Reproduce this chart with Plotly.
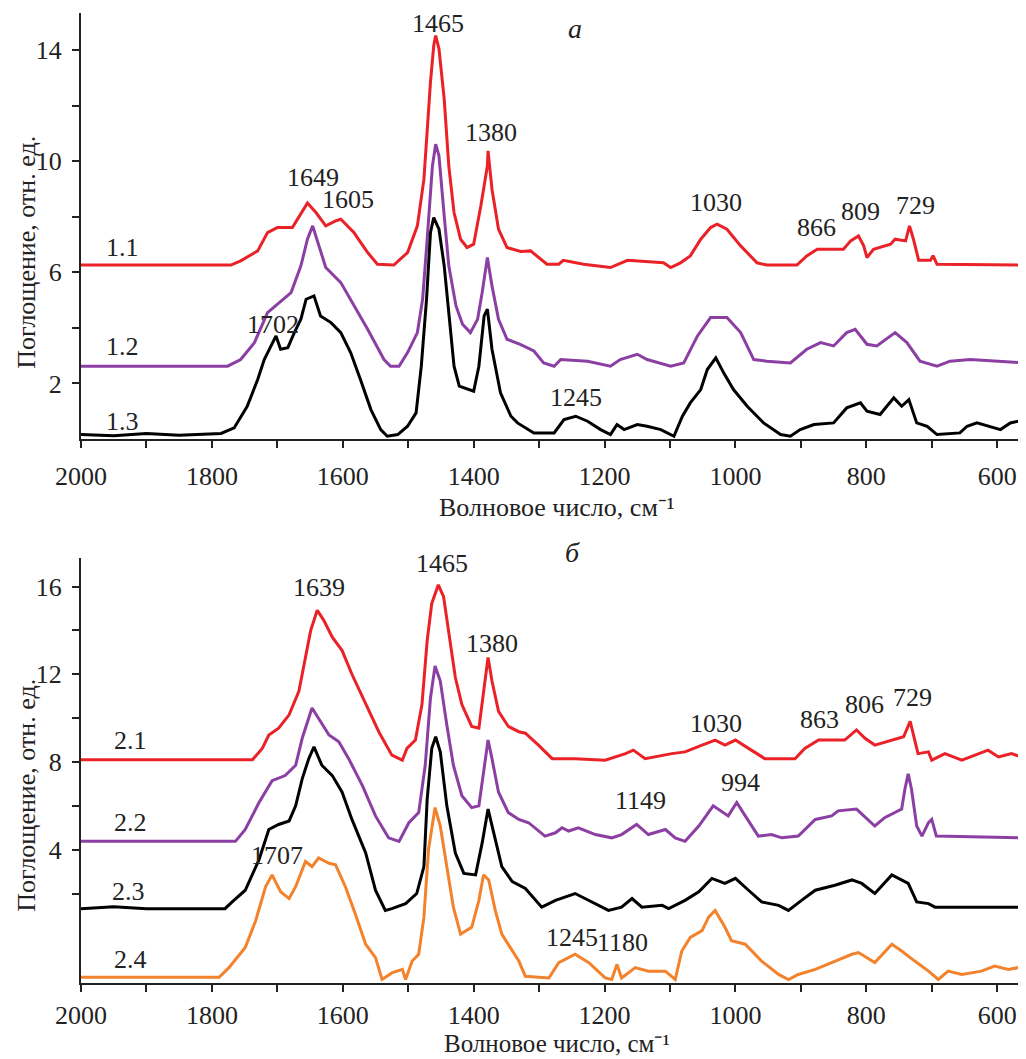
import plotly.graph_objects as go

# ---------------- data ----------------
x11 = [2000,1771,1756,1730,1715,1700,1677,1669,1654,1641,1626,1611,1603,1583,1562,1547,1522,1501,1486,1476,1466,1461,1458,1453,1445,1438,1430,1420,1410,1400,1389,1379,1378,1372,1362,1349,1328,1313,1288,1270,1263,1232,1191,1165,1110,1099,1084,1069,1053,1038,1028,1013,992,967,952,906,891,875,835,824,812,804,799,789,763,756,740,734,728,720,702,698,692,556]
y11 = [6.26,6.26,6.41,6.77,7.43,7.61,7.61,7.91,8.49,8.15,7.67,7.85,7.91,7.43,6.71,6.29,6.26,6.71,7.67,9.35,12.84,14.16,14.52,14.04,12.23,9.83,8.15,7.19,6.89,7.01,8.39,9.83,10.37,8.99,7.55,6.89,6.75,6.77,6.29,6.29,6.43,6.29,6.17,6.43,6.34,6.17,6.34,6.59,7.19,7.61,7.73,7.55,6.95,6.34,6.26,6.26,6.59,6.83,6.83,7.13,7.31,6.95,6.53,6.83,7.01,7.19,7.13,7.67,7.19,6.43,6.43,6.6,6.29,6.26]

x12 = [2000,1776,1756,1735,1715,1695,1679,1664,1654,1646,1636,1626,1603,1588,1562,1537,1527,1514,1501,1486,1478,1471,1463,1458,1453,1445,1438,1427,1417,1405,1394,1387,1379,1372,1362,1349,1328,1308,1293,1277,1267,1226,1191,1176,1150,1135,1099,1079,1058,1038,1013,992,972,952,916,891,870,850,830,817,799,784,756,738,718,692,672,641,556]
y12 = [2.62,2.62,2.86,3.47,4.55,4.97,5.27,6.23,7.19,7.67,6.95,6.17,5.63,5.03,3.95,2.86,2.62,2.62,3.11,3.83,5.03,7.19,9.83,10.61,10.19,8.03,6.23,4.79,4.13,3.83,4.31,5.27,6.53,5.51,4.31,3.59,3.4,3.17,2.74,2.62,2.86,2.8,2.62,2.86,3.05,2.86,2.62,2.74,3.71,4.37,4.37,3.83,2.86,2.8,2.74,3.23,3.47,3.35,3.83,3.95,3.41,3.35,3.83,3.47,2.8,2.62,2.8,2.86,2.74]

x13 = [2000,1950,1900,1850,1786,1766,1746,1730,1720,1710,1702,1695,1684,1674,1664,1656,1644,1634,1618,1603,1588,1573,1557,1542,1532,1516,1501,1488,1480,1472,1466,1461,1453,1445,1438,1430,1422,1400,1392,1384,1379,1372,1359,1343,1333,1308,1277,1262,1244,1226,1206,1191,1181,1170,1150,1135,1114,1094,1081,1069,1053,1043,1030,1018,1003,982,957,931,916,901,880,850,830,809,799,779,758,746,735,723,707,692,657,646,631,595,580,556]
y13 = [0.16,0.12,0.2,0.14,0.2,0.40,1.18,2.14,2.86,3.35,3.71,3.23,3.29,3.83,4.31,5.03,5.15,4.43,4.19,3.83,3.11,2.14,1.06,0.34,0.1,0.16,0.46,0.94,2.62,5.03,7.43,7.97,7.55,6.23,4.43,2.62,1.90,1.72,2.62,4.43,4.67,3.23,1.66,0.82,0.58,0.22,0.22,0.70,0.82,0.64,0.34,0.16,0.52,0.34,0.52,0.46,0.34,0.1,0.82,1.30,1.78,2.50,2.92,2.38,1.78,1.18,0.58,0.16,0.1,0.34,0.52,0.58,1.12,1.30,1.0,0.88,1.48,1.18,1.42,0.58,0.46,0.16,0.22,0.46,0.58,0.34,0.58,0.70]

x21 = [2000,1738,1723,1713,1698,1682,1667,1657,1649,1639,1629,1616,1601,1586,1565,1545,1525,1509,1502,1489,1479,1471,1464,1454,1446,1438,1428,1418,1403,1392,1385,1378,1372,1362,1347,1331,1321,1301,1280,1245,1199,1168,1156,1138,1097,1077,1051,1031,1016,1000,980,955,909,894,873,833,815,802,787,761,743,733,728,721,705,700,680,654,614,598,578,556]
y21 = [8.1,8.1,8.62,9.23,9.54,10.15,11.23,12.77,14.0,14.92,14.46,13.69,13.08,12.0,10.62,9.38,8.31,8.08,8.62,9.0,10.62,13.54,15.23,16.08,15.54,14.0,11.85,10.62,9.62,9.54,11.23,12.77,11.69,10.31,9.62,9.38,9.31,8.77,8.15,8.15,8.08,8.38,8.54,8.15,8.38,8.46,8.77,9.0,8.77,9.0,8.62,8.15,8.15,8.62,9.0,9.0,9.46,9.08,8.77,9.0,9.15,9.85,9.23,8.38,8.46,8.08,8.38,8.08,8.54,8.23,8.38,8.15]

x22 = [2000,1764,1749,1728,1708,1688,1672,1662,1647,1637,1621,1606,1591,1570,1550,1530,1514,1499,1484,1474,1466,1459,1451,1441,1431,1418,1403,1392,1385,1378,1372,1362,1347,1331,1316,1291,1275,1265,1255,1240,1214,1189,1174,1151,1133,1107,1092,1077,1056,1034,1011,998,985,965,945,929,904,878,853,843,815,787,772,746,741,736,731,723,715,705,700,693,556]
y22 = [4.38,4.38,4.92,6.15,7.15,7.38,7.85,9.08,10.46,10.0,9.23,8.92,8.15,6.92,5.54,4.54,4.38,5.23,5.69,7.85,10.92,12.38,11.69,9.69,7.85,6.46,5.92,6.0,7.54,9.0,8.15,6.62,5.69,5.38,5.23,4.62,4.77,5.0,4.85,5.0,4.69,4.54,4.69,5.15,4.69,4.92,4.54,4.38,5.08,6.0,5.54,6.15,5.54,4.62,4.69,4.54,4.62,5.38,5.54,5.77,5.85,5.08,5.46,5.85,6.77,7.46,6.77,5.08,4.62,5.23,5.38,4.62,4.54]

x23 = [2000,1950,1900,1850,1780,1769,1749,1728,1713,1698,1682,1672,1662,1652,1644,1632,1616,1601,1586,1565,1550,1535,1525,1504,1487,1476,1471,1464,1458,1451,1441,1428,1415,1397,1387,1378,1369,1357,1341,1321,1296,1275,1245,1224,1194,1174,1158,1143,1112,1102,1077,1056,1036,1016,1000,980,960,934,919,899,878,848,822,807,787,761,746,736,723,705,695,556]
y23 = [1.31,1.4,1.31,1.31,1.31,1.62,2.15,3.54,4.92,5.15,5.31,6.0,7.23,8.15,8.69,7.85,7.38,6.62,5.38,3.85,2.15,1.23,1.31,1.54,2.0,3.23,6.31,8.62,9.15,8.46,6.0,3.85,2.92,2.85,4.31,5.85,4.77,3.23,2.54,2.23,1.38,1.69,2.0,1.69,1.23,1.38,1.77,1.38,1.46,1.31,1.69,2.08,2.69,2.46,2.69,2.15,1.62,1.46,1.23,1.69,2.15,2.38,2.62,2.46,2.0,2.85,2.62,2.46,1.62,1.54,1.38,1.38]

x24 = [2000,1789,1774,1749,1733,1718,1708,1695,1682,1672,1657,1647,1637,1621,1611,1596,1581,1565,1550,1540,1525,1509,1504,1494,1484,1476,1469,1459,1451,1441,1431,1420,1403,1392,1385,1377,1367,1357,1341,1331,1321,1285,1270,1245,1224,1199,1189,1181,1174,1153,1133,1107,1092,1082,1069,1051,1041,1031,1016,1006,985,960,934,919,904,878,853,822,812,787,761,746,726,705,690,675,654,624,604,583,556]
y24 = [-1.82,-1.82,-1.38,-0.46,0.77,2.31,2.85,2.08,1.77,2.31,3.46,3.23,3.62,3.38,3.31,2.31,1.08,-0.31,-0.92,-1.92,-1.62,-1.46,-1.92,-1.08,-0.77,0.92,4.0,5.92,5.08,3.23,1.38,0.15,0.46,1.69,2.85,2.62,1.23,0.15,-0.62,-1.08,-1.77,-1.85,-1.15,-0.77,-1.15,-1.85,-1.92,-1.23,-1.85,-1.38,-1.54,-1.54,-1.92,-0.62,0.0,0.31,0.92,1.23,0.46,-0.15,-0.31,-1.08,-1.69,-1.92,-1.69,-1.46,-1.15,-0.77,-0.69,-1.15,-0.31,-0.62,-1.08,-1.54,-1.92,-1.54,-1.69,-1.54,-1.31,-1.46,-1.31]

# peak labels: (text, wavenumber, y)
peaks_a = [("1649",1646,9.42),("1605",1592,8.63),("1465",1455,14.95),("1380",1374,11.04),
           ("1702",1707,4.13),("1030",1029,8.52),("866",876,7.62),("809",809,8.2),
           ("729",725,8.41),("1245",1244,1.5)]
peaks_b = [("1639",1637,15.97),("1465",1449,17.03),("1380",1372,13.42),("1707",1700,3.72),
           ("1030",1030,9.77),("863",871,9.95),("806",803,10.62),("729",729,10.92),
           ("1149",1145,6.23),("994",992,7.08),("1245",1250,0.0),("1180",1173,-0.23)]
names_a = [("1.1",1936,6.9),("1.2",1936,3.33),("1.3",1936,0.63)]
names_b = [("2.1",1924,9.0),("2.2",1924,5.26),("2.3",1927,2.08),("2.4",1924,-1.0)]

xticks = list(range(2000, 550, -100))
xtext = [str(v) if v % 200 == 0 else "" for v in xticks]
yticks_a = [2,4,6,8,10,12,14]
ytext_a = ["2","","6","","10","","14"]
yticks_b = [2,4,6,8,10,12,14,16]
ytext_b = ["","4","","8","","12","","16"]

RED = "#ea2228"
PURPLE = "#8c3fa3"
BLACK = "#000000"
ORANGE = "#f2822c"
FONT = "Liberation Serif"
TXT = "#222222"
XTITLE = "Волновое число, см⁻¹"

fig = go.Figure()
for xs, ys, c in [(x11,y11,RED),(x12,y12,PURPLE),(x13,y13,BLACK)]:
    fig.add_trace(go.Scatter(x=xs, y=ys, mode="lines", line=dict(color=c, width=3),
                             xaxis="x", yaxis="y", showlegend=False))
for xs, ys, c in [(x21,y21,RED),(x22,y22,PURPLE),(x23,y23,BLACK),(x24,y24,ORANGE)]:
    fig.add_trace(go.Scatter(x=xs, y=ys, mode="lines", line=dict(color=c, width=3),
                             xaxis="x2", yaxis="y2", showlegend=False))

ann = []
for t, x, y in peaks_a + names_a:
    ann.append(dict(text=t, x=x, y=y, xref="x", yref="y", showarrow=False,
                    xanchor="center", yanchor="middle",
                    font=dict(family=FONT, size=26, color=TXT)))
for t, x, y in peaks_b + names_b:
    ann.append(dict(text=t, x=x, y=y, xref="x2", yref="y2", showarrow=False,
                    xanchor="center", yanchor="middle",
                    font=dict(family=FONT, size=26, color=TXT)))
# panel letters
ann.append(dict(text="<i>а</i>", x=0.5228, y=0.9845, xref="paper", yref="paper", showarrow=False,
                xanchor="center", yanchor="middle", font=dict(family=FONT, size=28, color=TXT)))
ann.append(dict(text="<i>б</i>", x=0.5206, y=0.4443, xref="paper", yref="paper", showarrow=False,
                xanchor="center", yanchor="middle", font=dict(family=FONT, size=28, color=TXT)))
# axis titles
for yy in [0.7536, 0.1938]:
    ann.append(dict(text="Поглощение, отн. ед.", x=-0.0585, y=yy, xref="paper", yref="paper",
                    showarrow=False, textangle=-90, xanchor="center", yanchor="middle",
                    font=dict(family=FONT, size=26, color=TXT)))
ann.append(dict(text=XTITLE, x=0.5037, y=0.4900, xref="paper", yref="paper",
                showarrow=False, xanchor="center", yanchor="middle",
                font=dict(family=FONT, size=26, color=TXT)))
ann.append(dict(text=XTITLE, x=0.5037, y=-0.0784, xref="paper", yref="paper",
                showarrow=False, xanchor="center", yanchor="bottom",
                font=dict(family=FONT, size=25, color=TXT)))

axis_common = dict(showgrid=False, zeroline=False, showline=True, linecolor=TXT, linewidth=2,
                   ticks="outside", ticklen=7, tickwidth=1.5, tickcolor=TXT,
                   tickfont=dict(family=FONT, size=26, color=TXT))

fig.update_layout(
    # page body has an 8px default margin; figure sized so it ends at the window edge
    width=1018, height=1051,
    margin=dict(l=73, r=0, t=5, b=76),
    plot_bgcolor="white", paper_bgcolor="white",
    xaxis=dict(domain=[0,1], range=[2000,556], anchor="y", tickmode="array",
               tickvals=xticks, ticktext=xtext, ticklabelstandoff=6, **axis_common),
    yaxis=dict(domain=[0.5608,1], range=[0,15.33], anchor="x", tickmode="array",
               tickvals=yticks_a, ticktext=ytext_a, ticklabelstandoff=5, **axis_common),
    xaxis2=dict(domain=[0,1], range=[2000,556], anchor="y2", tickmode="array",
                tickvals=xticks, ticktext=xtext, ticklabelstandoff=1, **axis_common),
    yaxis2=dict(domain=[0,0.4381], range=[-2.08,17.3], anchor="x2", tickmode="array",
                tickvals=yticks_b, ticktext=ytext_b, ticklabelstandoff=5, **axis_common),
    annotations=ann,
)

fig.write_html("out.html")
